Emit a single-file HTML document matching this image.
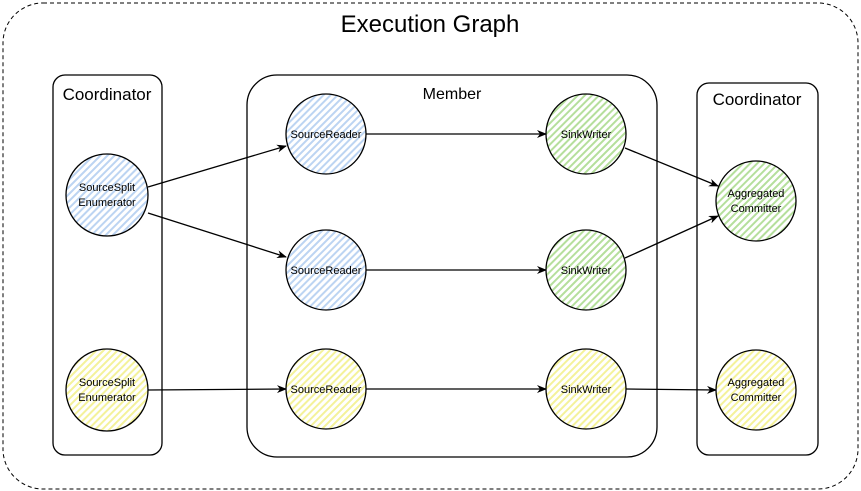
<!DOCTYPE html>
<html><head><style>body{margin:0;background:#fff}svg{display:block}text{font-family:"Liberation Sans",sans-serif;fill:#000}</style></head>
<body>
<svg width="861" height="491" viewBox="0 0 861 491" xmlns="http://www.w3.org/2000/svg">
<defs>
<pattern id="pb" width="5" height="5" patternUnits="userSpaceOnUse" patternTransform="rotate(45)"><rect width="5" height="5" fill="#fff"/><rect width="2" height="5" fill="#bcd4f2"/></pattern>
<pattern id="pg" width="5" height="5" patternUnits="userSpaceOnUse" patternTransform="rotate(45)"><rect width="5" height="5" fill="#fff"/><rect width="2" height="5" fill="#b5df9c"/></pattern>
<pattern id="py" width="5" height="5" patternUnits="userSpaceOnUse" patternTransform="rotate(45)"><rect width="5" height="5" fill="#fff"/><rect width="2" height="5" fill="#f4f29a"/></pattern>
<marker id="a" markerWidth="10" markerHeight="8" refX="9" refY="4" orient="auto" markerUnits="userSpaceOnUse"><path d="M0,0 L10,4 L0,8 L3,4 Z" fill="#000"/></marker>
</defs>
<rect x="3" y="3" width="855" height="486" rx="40" fill="none" stroke="#000" stroke-dasharray="4 3"/>
<text x="430" y="32" font-size="24" text-anchor="middle">Execution Graph</text>
<rect x="53" y="75" width="109" height="380" rx="12" fill="none" stroke="#000" stroke-width="1.3"/>
<text x="107" y="100" font-size="17" text-anchor="middle">Coordinator</text>
<rect x="247" y="75" width="410" height="382" rx="30" fill="none" stroke="#000" stroke-width="1.3"/>
<text x="452" y="99" font-size="16" text-anchor="middle">Member</text>
<rect x="697" y="83" width="121" height="372" rx="12" fill="none" stroke="#000" stroke-width="1.3"/>
<text x="757" y="105" font-size="17" text-anchor="middle">Coordinator</text>
<g stroke="#000" stroke-width="1.3" fill="none" marker-end="url(#a)">
<line x1="148" y1="187" x2="286" y2="146"/>
<line x1="148" y1="213" x2="286" y2="257"/>
<line x1="148" y1="390" x2="286" y2="389"/>
<line x1="366" y1="134" x2="546" y2="134"/>
<line x1="366" y1="270" x2="546" y2="270"/>
<line x1="366" y1="389" x2="546" y2="389"/>
<line x1="625" y1="148" x2="718" y2="186"/>
<line x1="625" y1="258" x2="718" y2="216"/>
<line x1="626" y1="389" x2="716" y2="390"/>
</g>
<g stroke="#000" stroke-width="1.3">
<circle cx="107" cy="195" r="41" fill="url(#pb)"/>
<circle cx="107" cy="390" r="41" fill="url(#py)"/>
<circle cx="326" cy="134" r="40" fill="url(#pb)"/>
<circle cx="326" cy="270" r="40" fill="url(#pb)"/>
<circle cx="326" cy="389" r="40" fill="url(#py)"/>
<circle cx="586" cy="134" r="40" fill="url(#pg)"/>
<circle cx="586" cy="270" r="40" fill="url(#pg)"/>
<circle cx="586" cy="389" r="40" fill="url(#py)"/>
<circle cx="756" cy="201" r="40" fill="url(#pg)"/>
<circle cx="756" cy="390" r="40" fill="url(#py)"/>
</g>
<g font-size="11" text-anchor="middle">
<text x="107" y="191">SourceSplit</text><text x="107" y="206">Enumerator</text>
<text x="107" y="386">SourceSplit</text><text x="107" y="401">Enumerator</text>
<text x="326" y="138">SourceReader</text>
<text x="326" y="274">SourceReader</text>
<text x="326" y="393">SourceReader</text>
<text x="586" y="138">SinkWriter</text>
<text x="586" y="274">SinkWriter</text>
<text x="586" y="393">SinkWriter</text>
<text x="756" y="197">Aggregated</text><text x="756" y="212">Committer</text>
<text x="756" y="386">Aggregated</text><text x="756" y="401">Committer</text>
</g>
</svg>
</body></html>
